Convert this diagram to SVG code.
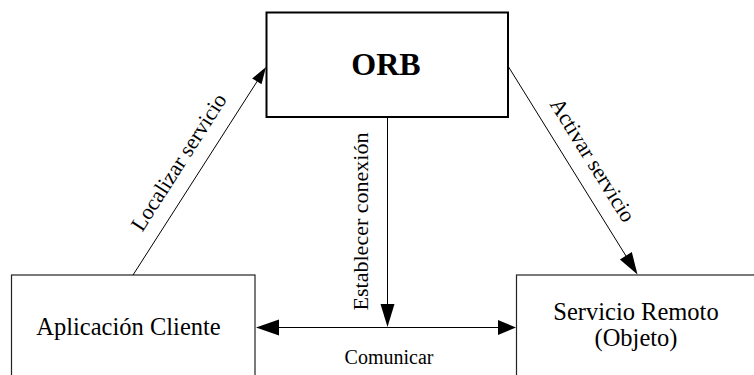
<svg xmlns="http://www.w3.org/2000/svg" width="754" height="375" viewBox="0 0 754 375">
  <style>
    text { font-family: "Liberation Serif", "Times New Roman", serif; fill: #000; }
    .node { fill: #fff; stroke: #222; stroke-width: 1.2; }
    .orb { fill: #fff; stroke: #000; stroke-width: 2; }
    .edge { stroke: #000; stroke-width: 1; fill: none; }
    .head { fill: #000; stroke: none; }
    .lbl { font-size: 22px; }
    .big { font-size: 24.5px; text-anchor: middle; }
  </style>
  <rect width="754" height="375" fill="#fff"/>

  <g id="orb">
    <rect class="orb" x="266.5" y="12.5" width="241.5" height="104.5"/>
    <text x="386" y="75" font-size="32" font-weight="bold" text-anchor="middle">ORB</text>
  </g>

  <g id="cliente">
    <rect class="node" x="11.5" y="275" width="243.5" height="120"/>
    <text class="big" x="128.5" y="335">Aplicación Cliente</text>
  </g>

  <g id="servicio">
    <rect class="node" x="516.5" y="275" width="260" height="120"/>
    <text class="big" x="636" y="320">Servicio Remoto</text>
    <text class="big" x="636" y="346">(Objeto)</text>
  </g>

  <g id="connectors">
    <!-- Localizar servicio: cliente to ORB -->
    <line class="edge" x1="133" y1="275" x2="258" y2="80"/>
    <polygon class="head" points="266,67 261.5,84.3 252.2,78.4"/>
    <text class="lbl" text-anchor="middle" transform="translate(184.8,166) rotate(-57.4)">Localizar servicio</text>

    <!-- Activar servicio: ORB to servicio remoto -->
    <line class="edge" x1="508" y1="66" x2="626" y2="256"/>
    <polygon class="head" points="637.5,274.5 619.9,259.5 631.8,252.1"/>
    <text class="lbl" text-anchor="middle" transform="translate(586.5,164) rotate(58.2)">Activar servicio</text>

    <!-- Establecer conexión: ORB down to the communication line -->
    <line class="edge" x1="387.5" y1="117" x2="387.5" y2="305"/>
    <polygon class="head" points="387.5,327 380.5,304 394.5,304"/>
    <text class="lbl" text-anchor="middle" transform="translate(368,221.5) rotate(-90)">Establecer conexión</text>

    <!-- Comunicar: two-way between cliente and servicio remoto -->
    <line class="edge" x1="278" y1="327.5" x2="499" y2="327.5" stroke="#333"/>
    <polygon class="head" points="256,327.5 279,319.5 279,335.5"/>
    <polygon class="head" points="516,327.5 498,320 498,335"/>
    <text x="389" y="364" font-size="20" text-anchor="middle">Comunicar</text>
  </g>
</svg>
